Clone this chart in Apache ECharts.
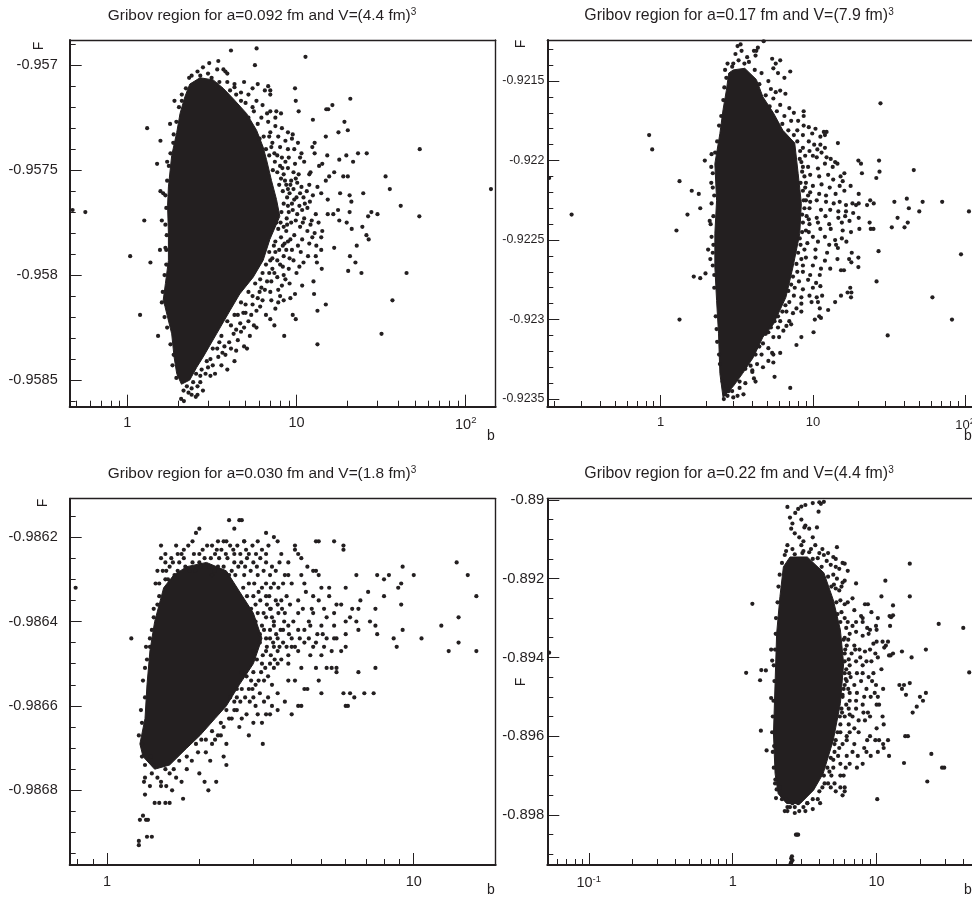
<!DOCTYPE html>
<html><head><meta charset="utf-8">
<script src="https://cdn.jsdelivr.net/npm/echarts@6/dist/echarts.min.js"></script>
<style>html,body{margin:0;padding:0;background:#fff}#c{width:972px;height:899px}</style></head>
<body><div id="c"></div>
<script>
const titles=[['Gribov region for a=0.092 fm and V=(4.4 fm)','3'],['Gribov region for a=0.17 fm and V=(7.9 fm)','3'],['Gribov region for a=0.030 fm and V=(1.8 fm)','3'],['Gribov region for a=0.22 fm and V=(4.4 fm)','3']];

const core1=[[2.34,-.95709],[2.69,-.95706],[3.22,-.95707],[3.69,-.95711],[4.23,-.95716],[5.07,-.95723],[5.81,-.95731],[6.35,-.95739],[6.65,-.95745],[7.12,-.95755],[7.62,-.95764],[7.97,-.95772],[6.96,-.95783],[6.35,-.95793],[5.55,-.95801],[4.62,-.95809],[4.04,-.95817],[3.37,-.95828],[2.81,-.95839],[2.57,-.95844],[2.34,-.9585],[2.09,-.95852],[1.96,-.95847],[1.89,-.95839],[1.83,-.95828],[1.67,-.95815],[1.63,-.95812],[1.68,-.95804],[1.75,-.95793],[1.75,-.9578],[1.73,-.95767],[1.75,-.95758],[1.83,-.95743],[1.96,-.95732],[2.05,-.95723],[2.19,-.95715]];
const pts1=[[.475,-.95769],[.565,-.9577],[1.04,-.95791],[1.26,-.95774],[1.19,-.95819],[1.31,-.9573],[1.37,-.95794],[1.52,-.95829],[1.5,-.95747],[1.57,-.95736],[1.57,-.9576],[1.63,-.95761],[1.6,-.95774],[1.72,-.95746],[1.56,-.95788],[1.68,-.95787],[1.9,-.95717],[1.79,-.95728],[1.87,-.95737],[4.1,-.95693],[5.81,-.95692],[5.68,-.957],[3.45,-.95698],[3.05,-.95699],[11.3,-.95696],[20.8,-.95716],[16.3,-.95719],[15.4,-.95721],[15,-.95721],[9.8,-.95711],[9.9,-.95717],[10.3,-.95722],[12.5,-.95726],[19.2,-.95727],[17.7,-.95732],[20.1,-.95731],[53.5,-.9574],[14.9,-.95734],[12.8,-.95737],[12.8,-.95742],[10.7,-.95742],[12.4,-.95739],[15.2,-.95743],[19.7,-.95743],[17.9,-.95745],[21.6,-.95746],[23.1,-.95742],[26,-.95742],[33.6,-.95753],[35.6,-.95759],[41.3,-.95767],[53.2,-.95772],[141,-.95759],[24.8,-.95761],[27.7,-.9577],[26.5,-.95772],[30.1,-.95771],[24.5,-.95777],[25.9,-.95781],[26.7,-.95783],[22.7,-.95786],[20.7,-.95791],[22.3,-.95794],[20.2,-.95798],[24.2,-.95799],[44.7,-.95799],[36.9,-.95812],[31.8,-.95828],[14.9,-.95814],[13.3,-.95817],[13.3,-.95833],[8.46,-.95829],[16.7,-.95787],[12.7,-.95809],[12.6,-.95803],[10.8,-.95805],[14.1,-.95797],[17.9,-.95774],[19.8,-.95775],[21.2,-.95778],[17.6,-.95769],[16.5,-.95771],[15.3,-.95764],[15.3,-.95771],[18.1,-.95761],[20.6,-.95762],[21.1,-.95765],[20.6,-.9577],[20.1,-.95753],[18.9,-.95753],[16.7,-.95751],[15.6,-.95753],[14.9,-.95755],[14,-.95761],[13.3,-.95758],[11.9,-.95757],[14.2,-.95747],[12.1,-.95751],[11.9,-.95752],[13.6,-.95748],
[2.6,-.95703],[2.8,-.95701],[2.4,-.95705],[2.7,-.95705],[3,-.95704],[3.4,-.95702],[3.7,-.95702],[3.8,-.95703],[3.9,-.95704],[3.5,-.95708],[3.9,-.95708],[4.3,-.95709],[4.9,-.95708],[5.5,-.95711],[5.9,-.95709],[6.8,-.9571],[7,-.95712],[7,-.95714],[6.5,-.95712],[4.4,-.95714],[4.7,-.95717],[5,-.95718],[5.8,-.95717],[6.3,-.95719],[7,-.95722],[7.6,-.95722],[8.1,-.95723],[5.6,-.95722],[6.2,-.95725],[6.8,-.95727],[7.5,-.95729],[8.2,-.9573],[8.9,-.95732],[9.5,-.95733],[7,-.95732],[7.8,-.95734],[8.6,-.95736],[9.4,-.95735],[10.2,-.95737],[7.2,-.95737],[8,-.95739],[8.9,-.9574],[9.7,-.9574],[10.5,-.95744],[11.1,-.95746],[7.4,-.95742],[8.2,-.95744],[9,-.95744],[9.8,-.95747],[8,-.95748],[8.9,-.95749],[9.6,-.95751],[10.3,-.95752],[8.4,-.95752],[9.3,-.95755],[10.1,-.95756],[8.7,-.95757],[9.6,-.95759],[10.7,-.95758],[11.5,-.9576],[12.5,-.95762],[9.1,-.95761],[10,-.95763],[11,-.95763],[12,-.95765],[9.4,-.95766],[10.4,-.95767],[11.6,-.95768],[13,-.95771],[9,-.9577],[10.1,-.95771],[11.1,-.95773],[12.3,-.95774],[13.5,-.95775],[14.2,-.95779],[9.3,-.95775],[10.5,-.95777],[11.6,-.95779],[12.8,-.9578],[14,-.95782],[8.7,-.95779],[9.7,-.95781],[10.8,-.95783],[11.9,-.95785],[13.1,-.95786],[14,-.95788],[7.5,-.95784],[8.5,-.95785],[9.4,-.95788],[10.6,-.95789],[11.7,-.95791],[13,-.95791],[7.5,-.95789],[8.4,-.95791],[9.6,-.95793],[11,-.95794],[13.2,-.95794],[7,-.95793],[8,-.95795],[9,-.95797],[10.4,-.95796],[7.4,-.95799],[8.4,-.958],[6.3,-.95799],[7.1,-.95803],[8.2,-.95805],[9.1,-.95804],[6.2,-.95806],[7,-.95808],[8,-.9581],[9.2,-.95811],[9.8,-.95809],[5.5,-.9581],[6.3,-.95812],[7.1,-.95812],[7.8,-.95813],[8.4,-.95812],[5,-.95814],[5.8,-.95817],[6.6,-.95819],[7,-.95821],[9.5,-.95819],[9.9,-.95821],[4.5,-.95819],[5.2,-.95822],[5.8,-.95825],[7.4,-.95824],[4.1,-.95824],[4.7,-.95827],[5.3,-.95829],[5.6,-.95824],[3.6,-.95829],[4,-.95832],[4.5,-.95831],[4.9,-.95834],[5.1,-.95835],[3.4,-.95835],[3.8,-.95838],[4.3,-.95841],[3.1,-.9584],[3.6,-.95843],[3,-.95844],[2.9,-.95847],[3.1,-.95848],[2.7,-.95851],[2.8,-.95855],[2.6,-.95857],[2.4,-.95857],[2.4,-.95854],[2.08,-.95859],[2.16,-.9586],[2.54,-.95858],[2.3,-.95856],
[5.2,-.95725],[5.5,-.9572],[5.9,-.95728],[6.4,-.95734],[6.05,-.95735],[6.6,-.9574],[6.9,-.95743],[7.1,-.95739],[7.45,-.95746],[7.7,-.95751],[7.25,-.9575],[8.25,-.95749],[8.55,-.95755],[7.9,-.95757],[8.3,-.9576],[8.8,-.95763],[8.4,-.95766],[8.15,-.9577],[8.75,-.95773],[8.4,-.95777],[7.8,-.95778],[8.1,-.95782],[7.35,-.95786],[7.9,-.95788],[6.9,-.95789],[7.2,-.95792],[6.6,-.95795],[6.1,-.95802],[6.7,-.95803],[5.7,-.95804],[6.05,-.95808],[5.2,-.95808],[5.5,-.95814],[4.7,-.95813],[5,-.95818],[4.3,-.95819],[4.65,-.95823],[3.9,-.95822],[4.25,-.95828],[3.5,-.95832],[3.75,-.95834],[3.2,-.95835],[3.45,-.95839],[2.95,-.95841],[3.2,-.95843],[2.75,-.95845],[2.55,-.95847],[2.7,-.95848],[2.45,-.95851],[2.25,-.95853],[2.15,-.95855],[1.95,-.95849],[1.85,-.95843],[1.88,-.95838],[1.8,-.95833],[1.72,-.95825],[1.66,-.9582],[1.6,-.95813],[1.62,-.95808],[1.66,-.958],[1.7,-.95795],[1.7,-.95788],[1.71,-.95781],[1.68,-.95776],[1.7,-.95768],[1.68,-.95762],[1.72,-.95755],[1.76,-.95748],[1.8,-.95742],[1.88,-.95733],[1.95,-.95727],[2.02,-.9572],[2.1,-.95714],[2.22,-.95711],[2.32,-.95706],[9.2,-.95757],[9.9,-.95754],[10.5,-.95761],[11.2,-.95766],[9.5,-.95769],[10.8,-.95769],[12.1,-.95776],[8.9,-.95784],[10.2,-.95786],[12.4,-.95782],[9.1,-.95792],[10,-.95799],[8.6,-.95802],[7.8,-.95807],[7.5,-.95816],[6.1,-.95815],[5.4,-.95819],[4.9,-.95825],[4.4,-.95836],[3.9,-.95845],[3.3,-.95847],[2.6,-.95853],[4.3,-.957105],[5.2,-.95714],[3.15,-.95706],[4.05,-.95712],[4.7,-.95713],[2.1,-.95717],
[8.6,-.95746],[8.1,-.95754],[8.9,-.95759],[9.7,-.95764],[8.9,-.95767],[9.9,-.95774],[10.9,-.95775],[8.8,-.95776],[9.2,-.95783],[8.3,-.95786],[8.7,-.95788],[7.7,-.95793],[8.3,-.95796],[7.2,-.95797],[6.9,-.95799],[7.7,-.95801],[6.5,-.95807],[5.9,-.95811],[4.4,-.95826],[4.85,-.95818],[4.1,-.95835],[3.65,-.95837],[7.6,-.95775],[8.05,-.95775],[7.5,-.95725],[6.7,-.95723],[7.7,-.95743],[6.9,-.95734]];

const core2=[[3,-.92143],[3.57,-.92142],[4.25,-.92149],[4.7,-.9216],[5.5,-.9217],[6.35,-.92181],[7.6,-.92189],[8,-.92208],[8.4,-.92227],[8.2,-.92246],[7.4,-.92267],[6.65,-.92286],[5.5,-.92303],[4.7,-.92311],[4.05,-.92324],[3.45,-.92334],[3,-.92342],[2.57,-.92349],[2.45,-.92334],[2.4,-.92309],[2.33,-.92288],[2.27,-.92267],[2.27,-.92246],[2.33,-.92225],[2.27,-.92202],[2.45,-.92183],[2.57,-.92168],[2.7,-.92156],[2.8,-.92145]];
const pts2=[[.185,-.92211],[.26,-.92234],[.84,-.92184],[.88,-.92193],[1.27,-.92244],[1.33,-.92213],[1.33,-.923],[1.5,-.92234],[1.6,-.92219],[1.78,-.92221],[1.82,-.9223],[1.65,-.92273],[1.82,-.92274],[1.97,-.92271],[1.95,-.922],[2.16,-.92196],[2.15,-.92204],[2.15,-.92214],[2.2,-.92217],[2.16,-.92227],[2.1,-.92238],[2.13,-.9224],[2.16,-.92248],[2.05,-.92256],[2.12,-.92262],[2.2,-.92258],[2.2,-.92266],[2.25,-.92272],[3.1,-.92133],[3.2,-.92128],[3.35,-.92127],[3.4,-.92131],[3.7,-.92135],[4.1,-.92131],[4.25,-.92131],[4.35,-.92129],[4.75,-.92125],[4.2,-.92134],[5.4,-.92136],[5.7,-.92139],[6.1,-.92137],[5.9,-.92145],[5.5,-.92142],[6.5,-.92148],[7.1,-.92144],[4.6,-.92145],[5.1,-.9215],[5.3,-.92155],[5.7,-.92157],[6.1,-.92156],[6.6,-.92158],[5.5,-.92161],[6.1,-.92165],[7,-.92167],[7.5,-.9217],[8.7,-.92169],[8.7,-.92172],[6.5,-.92172],[7.2,-.92175],[8,-.92175],[8.7,-.92178],[9.4,-.92179],[10.4,-.9218],[11.8,-.92182],[12.3,-.92182],[7.9,-.92181],[8.6,-.92184],[9.9,-.92183],[11.2,-.92185],[12,-.92184],[27.8,-.92164],[14.6,-.92189],[9.4,-.92188],[10.2,-.9219],[11.2,-.9219],[12,-.92192],[8.6,-.92192],[9.5,-.92194],[10.7,-.92193],[11.4,-.92195],[8.9,-.92197],[10,-.92197],[10.6,-.92198],[12.3,-.92198],[13.1,-.92199],[14,-.92201],[19.9,-.922],[20.7,-.92202],[27.2,-.922],[8.4,-.92201],[9.3,-.92204],[10.8,-.92205],[12,-.92202],[13.5,-.92204],[14.5,-.92202],[21,-.92208],[27.4,-.92207],[26.1,-.92211],[46,-.92206],[8.5,-.92207],[9.6,-.92209],[11,-.9221],[12.6,-.92209],[13.6,-.92212],[15.2,-.9221],[16.1,-.92208],[15.7,-.92213],[9,-.92214],[10,-.92216],[11.4,-.92215],[12.9,-.92217],[15,-.92216],[17.7,-.92216],[8.6,-.92219],[9.6,-.9222],[11,-.92221],[12.2,-.92222],[14.1,-.92221],[16.1,-.92219],[20,-.92221],[9,-.92225],[10.6,-.92225],[12.2,-.92226],[13.7,-.92227],[15,-.92226],[16.5,-.92228],[18.2,-.92227],[20,-.92227],[19.2,-.92228],[23.8,-.92225],[22.7,-.92228],[25.1,-.92227],[34.3,-.92226],[41.4,-.92224],[52.6,-.92226],[70.7,-.92226],[9.5,-.9223],[11.3,-.92231],[13,-.92231],[14.7,-.92232],[16.5,-.92232],[18.4,-.92233],[42.7,-.9223],[50,-.92232],[106,-.92232],[9.1,-.92235],[10.6,-.92236],[12.1,-.92235],[14.7,-.92236],[16.3,-.92235],[20,-.92236],[36,-.92236],[23.6,-.92239],[24,-.92243],[25,-.92243],[33,-.92242],[40,-.92242],[42,-.92239],[20.2,-.92243],[9.5,-.9224],[10.8,-.92239],[12.8,-.9224],[15.5,-.92239],[17.4,-.92238],[9,-.92244],[11.2,-.92243],[13.1,-.92243],[15.7,-.92244],[17.8,-.92245],[10,-.92248],[12,-.92248],[14,-.9225],[15.5,-.92249],[9.2,-.92252],[10.8,-.92251],[12.8,-.92253],[14.2,-.92253],[16.6,-.92251],[8.8,-.92256],[10.4,-.92256],[12.4,-.92258],[14.6,-.92255],[18,-.92258],[19.9,-.92261],[27,-.92257],[94,-.92259],[9,-.92261],[10.4,-.92261],[12,-.92263],[14.5,-.92262],[17.3,-.92262],[17.9,-.92264],[8.6,-.92266],[10,-.92266],[11.3,-.92268],[13,-.92268],[16,-.92269],[15.3,-.92269],[19.9,-.92267],[8.6,-.9227],[9.6,-.92272],[11.1,-.92272],[8.1,-.92276],[9.3,-.92275],[10.5,-.92277],[26.2,-.92276],[7.6,-.9228],[8.6,-.92281],[10,-.9228],[11.2,-.92279],[17.6,-.9228],[16.9,-.92283],[17.9,-.92283],[15.3,-.92285],[17.8,-.92286],[7.5,-.92285],[8.4,-.92286],[9.5,-.92285],[10.6,-.92286],[11.5,-.92285],[61,-.92286],[14,-.92289],[7,-.92289],[8.4,-.9229],[9.8,-.92289],[10.8,-.92289],[7.8,-.92293],[8.4,-.92295],[11.1,-.92293],[12.6,-.92294],[6.7,-.92295],[7.4,-.92296],[10.3,-.923],[11,-.92298],[11.3,-.92299],[82,-.923],[6.1,-.92301],[7,-.92301],[5.9,-.92305],[6.7,-.92304],[7.2,-.92303],[6.4,-.92307],[10.1,-.92308],[31,-.9231],[8.4,-.92311],[7.8,-.92316],[5.1,-.92308],[5.5,-.92311],[6,-.92311],[4.7,-.92315],[5.1,-.92318],[5.4,-.92321],[5.5,-.92322],[6.1,-.92321],[4.6,-.92322],[5.1,-.92326],[4.7,-.9233],[5.5,-.92327],[4.3,-.92328],[4,-.92333],[4,-.92332],[4.1,-.92337],[3.6,-.9234],[3.3,-.92343],[3.5,-.92347],[3.2,-.92348],[4.2,-.92339],[5.6,-.92336],[7.1,-.92343],[2.8,-.92345],[2.75,-.92348],[2.6,-.9235],[2.65,-.92347],[3,-.92349],
[3,-.92139],[3.25,-.92137],[3.55,-.92139],[3.8,-.92138],[2.95,-.92141],[4.15,-.92143],[4.45,-.92152],[4.9,-.92159],[5.2,-.92166],[5.8,-.92169],[6.3,-.92177],[6.9,-.92181],[7.5,-.92184],[7.9,-.92188],[8.25,-.92194],[8.2,-.92199],[8.6,-.92204],[8.8,-.9221],[8.3,-.92214],[8.9,-.92217],[9.3,-.92222],[8.7,-.92225],[9.6,-.92226],[8.8,-.9223],[8.5,-.92234],[9.4,-.92237],[8.6,-.92239],[8.5,-.92245],[9.4,-.92245],[8.2,-.92249],[8.3,-.92253],[8,-.92258],[8.4,-.92262],[7.8,-.92265],[7.9,-.9227],[7.4,-.92273],[7.2,-.92278],[6.9,-.92282],[6.6,-.92291],[6.3,-.92295],[5.9,-.92298],[5.6,-.92301],[5.3,-.92305],[4.9,-.92309],[4.45,-.92317],[4.2,-.92322],[3.9,-.92329],[3.6,-.92331],[3.3,-.92339],[2.95,-.92345],[2.7,-.92342],[2.55,-.92339],[2.45,-.92328],[2.42,-.92322],[2.35,-.92314],[2.33,-.92306],[2.3,-.92298],[2.25,-.9228],[2.22,-.92253],[2.22,-.92235],[2.25,-.92222],[2.2,-.92208],[2.28,-.92195],[2.35,-.92188],[2.42,-.92178],[2.5,-.92172],[2.58,-.92162],[2.62,-.92154],[2.7,-.92148],[2.65,-.92143],[2.75,-.92139]];

const core3=[[1.53,-.98632],[1.65,-.98629],[1.82,-.98627],[2.11,-.98626],[2.45,-.98628],[2.71,-.98633],[3,-.98638],[3.2,-.98644],[3.0,-.9865],[2.7,-.98655],[2.45,-.9866],[2.25,-.98663],[2.01,-.98667],[1.82,-.9867],[1.6,-.98674],[1.43,-.98675],[1.31,-.98672],[1.28,-.98669],[1.33,-.98663],[1.35,-.98655],[1.38,-.98647],[1.43,-.9864]];
const pts3=[[.79,-.98632],[1.2,-.98644],[1.34,-.98646],[1.38,-.98646],[1.42,-.98637],[1.3,-.98669],[1.3,-.98672],[1.32,-.98678],[1.33,-.98681],[1.38,-.98679],[1.43,-.98683],[1.48,-.98683],[1.55,-.98683],[1.6,-.98683],[1.28,-.98687],[1.31,-.98686],[1.34,-.98687],[1.36,-.98687],[1.27,-.98692],[1.27,-.98693],[1.35,-.98691],[1.4,-.98691],[1.33,-.98677],[1.4,-.98676],[1.46,-.98677],[1.5,-.98679],[1.56,-.98679],[1.63,-.9868],[1.6,-.98676],[1.68,-.98677],[1.75,-.98678],[1.77,-.98682],[2,-.98676],[2.08,-.98678],[2.14,-.9868],[2.27,-.98678],[2.17,-.98673],[2.4,-.98672],[2.45,-.98674],[1.89,-.98673],[1.98,-.98671],[2.2,-.98669],[2.45,-.98669],[2.35,-.98667],[2.03,-.98668],[2.7,-.98665],[2.9,-.98667],[3.22,-.98669],[2.75,-.98663],[3,-.98664],[3.2,-.98664],[2.55,-.98663],[2.65,-.98661],[2.85,-.98662],[3.05,-.9866],[3.3,-.98662],[3.4,-.98662],[3.15,-.98657],[3.35,-.98658],[3.6,-.98661],[3.8,-.98659],[4,-.98662],[4.2,-.9866],[4.3,-.9866],[2.75,-.98656],[2.9,-.98656],[3,-.98658],[3.25,-.98654],[3.45,-.98655],[3.6,-.98657],[3.9,-.98654],[4.1,-.98654],[4.4,-.98656],[4.5,-.98656],[4.9,-.98654],[5,-.98657],[5.9,-.98657],[6.2,-.98657],[6.4,-.98658],[6,-.9866],[6.1,-.9866],[6.9,-.98657],[7.4,-.98657],[7.5,-.98651],[6.6,-.98652],[3,-.98652],[3.2,-.9865],[3.5,-.98651],[3.9,-.9865],[4.3,-.98651],[4.8,-.98651],[5.2,-.98651],[5.4,-.98651],[5.6,-.98651],[5.6,-.98652],[3,-.98647],[3.3,-.98647],[3.6,-.98647],[3.9,-.98648],[4.2,-.98647],[4.6,-.98648],[5,-.98648],[5.4,-.98647],[5.8,-.98647],[6,-.98646],[3.3,-.98644],[3.6,-.98644],[4,-.98644],[4.4,-.98645],[4.8,-.98645],[5.2,-.98644],[5.6,-.98644],[6,-.98643],[6.6,-.98642],[7.6,-.98643],[8.6,-.98644],[8.8,-.98646],[9.2,-.98642],[10.6,-.98644],[12.3,-.98641],[13,-.98647],[14,-.98645],[16,-.98647],[3.2,-.98641],[3.5,-.98641],[3.9,-.98641],[4.2,-.98642],[4.6,-.98641],[5,-.98641],[5.5,-.98641],[6,-.9864],[6.5,-.9864],[7.2,-.9864],[7.5,-.98641],[14,-.98639],[3.1,-.98638],[3.4,-.98637],[3.8,-.98638],[4.2,-.98638],[4.7,-.98638],[5.1,-.98637],[5.5,-.98638],[6.2,-.98639],[6.6,-.98637],[3,-.98634],[3.3,-.98634],[3.7,-.98635],[4.2,-.98635],[4.7,-.98634],[5.3,-.98634],[5.8,-.98636],[6.3,-.98637],[6.7,-.98635],[7.1,-.98633],[7.5,-.98637],[8,-.98634],[8.9,-.98632],[9.1,-.98636],[16,-.98634],[2.6,-.98632],[2.9,-.98631],[3.2,-.98632],[3.5,-.98631],[4,-.98631],[4.4,-.98631],[5,-.98632],[5.3,-.98632],[6,-.98632],[2.2,-.98629],[2.5,-.98629],[2.8,-.98629],[3.1,-.98629],[3.4,-.98629],[3.8,-.98629],[4.3,-.98629],[4.7,-.98628],[4.9,-.98629],[6.5,-.98629],[7.6,-.98629],[8,-.9863],[8.3,-.98629],[9.1,-.98631],[10,-.98629],[15,-.98629],[2,-.98626],[2.3,-.98627],[2.6,-.98626],[3,-.98626],[3.3,-.98626],[3.9,-.98626],[4.5,-.98627],[4.8,-.98628],[9.2,-.98627],[13.8,-.98626],[1.55,-.9863],[1.7,-.98628],[1.9,-.98626],[1.55,-.98626],[1.62,-.98625],[1.75,-.98624],[2,-.98624],[2.25,-.98624],[2.6,-.98624],[2.9,-.98624],[3.3,-.98624],[3.7,-.98624],[4.2,-.98624],[4.3,-.98625],[1.5,-.98622],[1.68,-.98622],[1.78,-.98623],[2.2,-.98622],[2.4,-.98621],[2.8,-.98621],[3.1,-.98621],[3.6,-.98621],[4.1,-.98623],[4.1,-.98622],[4.8,-.98621],[4.9,-.98621],[5.5,-.98621],[5.9,-.98622],[5.9,-.98623],[1.9,-.98621],[2,-.98618],[1.95,-.98619],[2.3,-.98621],[2.45,-.98621],[2.8,-.98621],[2.6,-.98618],[3.3,-.98619],[3.5,-.9862],[2.5,-.98616],[2.7,-.98616],[2.75,-.98616],
[1.48,-.98631],[1.52,-.98628],[1.6,-.98627],[1.58,-.9863],[1.66,-.98629],[1.72,-.98626],[1.8,-.98627],[1.86,-.98628],[1.94,-.98628],[2.02,-.98627],[2.08,-.98625],[2.16,-.98627],[2.24,-.98628],[2.32,-.98625],[2.4,-.98627],[2.47,-.98625],[2.55,-.98628],[2.62,-.98629],[2.68,-.98627],[2.74,-.98626],[2.82,-.98627],[2.86,-.98625],[2.94,-.98628],[3.02,-.98631],[3.08,-.98627],[3.16,-.98625],[3.24,-.98628],[3.3,-.98631],[3.42,-.98632],[2.78,-.98632],[2.86,-.98634],[2.95,-.98637],[3.05,-.98636],[3.16,-.98635],[3.24,-.98638],[3.32,-.98636],[3.45,-.98639],[3.55,-.98635],[3.62,-.98638],[3.72,-.98637],[3.85,-.98634],[3.95,-.98636],[4.05,-.9864],[4.35,-.98637],[4.45,-.98633],[4.55,-.9864],[4.85,-.98643],[5.05,-.98643],[3.05,-.9864],[3.15,-.98643],[3.25,-.98642],[3.4,-.98642],[3.48,-.98645],[3.68,-.98642],[3.75,-.98645],[3.85,-.98646],[4.1,-.98646],[4.25,-.98644],[4.55,-.98644],[3.15,-.98645],[3.22,-.98648],[3.42,-.98648],[3.52,-.98649],[3.7,-.98649],[3.08,-.98649],[3.18,-.98652],[3.35,-.98653],[2.95,-.98654],[3.05,-.98655],[2.75,-.98652],[2.85,-.98653],[2.65,-.98656],[2.52,-.98658],[2.6,-.98659],[2.45,-.98661],[2.5,-.98663],[2.35,-.98664],[2.2,-.98666],[2.3,-.98667],[2.1,-.98668],[1.95,-.98669],[2.1,-.98671],[1.82,-.98672],[1.72,-.98673],[1.82,-.98675],[1.65,-.98675],[1.55,-.98675],[1.42,-.98674],[1.5,-.98678],[1.39,-.98672],[1.33,-.98674],[1.27,-.98667],[1.3,-.98664],[1.29,-.98661],[1.33,-.98658],[1.31,-.98654],[1.33,-.98651],[1.35,-.98649],[1.38,-.98644],[1.4,-.98642],[1.42,-.98639],[1.46,-.98636],[1.48,-.98634],[1.44,-.98631],[1.46,-.98628],[1.55,-.98624],
[1.5,-.98625],[1.56,-.98628],[1.64,-.98626],[1.7,-.98624],[1.78,-.98625],[1.84,-.98622],[1.92,-.98624],[2.05,-.98623],[2.12,-.98622],[2.18,-.98625],[2.28,-.98623],[2.36,-.98623],[2.44,-.98624],[2.52,-.98622],[2.58,-.98623],[2.66,-.98622],[2.72,-.98624],[2.84,-.98623],[2.98,-.98622],[3.06,-.98624],[3.2,-.98623],[3.36,-.98622],[3.45,-.98627],[3.55,-.98628],[3.65,-.98626],[3.75,-.98631],[3.9,-.98629],[3.12,-.98633],[3.38,-.98634],[3.62,-.98632],[3.5,-.9864],[3.78,-.9864],[3.6,-.98636],[3.42,-.98637],[3.3,-.98639],[3.92,-.98643],[3.75,-.98642],[3.56,-.98643],[3.4,-.98644],[3.32,-.98646],[3.5,-.98646],[3.65,-.98646],[4,-.98646],[3.4,-.9865],[3.6,-.9865],[3.28,-.98651],[3.12,-.98654],[2.98,-.98656],[2.82,-.98658],[2.72,-.98659],[2.6,-.98661],[2.4,-.98665],[2.25,-.98668],[4.65,-.98637],[4.9,-.98635],[5.2,-.98639],[5.6,-.98636],[4.4,-.98642],[4.7,-.98646],[5.1,-.98646],[5.5,-.98644],[2.92,-.98659],[3.1,-.98662],[3.45,-.9866],[3.25,-.98659],[2.65,-.98658]];

const core4=[[2.5,-.89145],[3.3,-.89145],[4.3,-.89185],[5,-.89254],[5.6,-.8933],[5.9,-.89416],[5.6,-.89517],[5,-.8961],[4.25,-.89695],[3.65,-.89737],[2.95,-.89771],[2.37,-.89771],[2.07,-.89746],[1.97,-.89695],[1.92,-.89593],[1.97,-.89466],[2.02,-.89339],[2.13,-.89245],[2.25,-.8917]];
const pts4=[[.053,-.89388],[1.24,-.89439],[1.37,-.89264],[1.55,-.89458],[1.58,-.89432],[1.7,-.89433],[1.57,-.89586],[1.72,-.89636],[1.85,-.8938],[1.88,-.89408],[1.85,-.89503],[1.94,-.89625],[1.96,-.8959],[1.97,-.8972],[2,-.89757],[2.02,-.89735],[2.4,-.89018],[2.5,-.89045],[2.6,-.8906],[2.55,-.89073],[2.72,-.89033],[2.85,-.89023],[3,-.8905],[3.2,-.89065],[3.15,-.8907],[3.4,-.89073],[3.85,-.8907],[3.95,-.8903],[4.1,-.8901],[4,-.89006],[3.6,-.89008],[3,-.89017],[3.2,-.89013],[4.3,-.89005],[2.7,-.89085],[2.9,-.89095],[3.1,-.89105],[3.6,-.89095],[2.4,-.89115],[2.35,-.8913],[2.6,-.89125],[3,-.89115],[3.1,-.8913],[3.5,-.89125],[3.75,-.89115],[4.2,-.89125],[4.6,-.89135],[5.3,-.8912],[3.4,-.89133],[4,-.89135],[4.3,-.8914],[5,-.89145],[5.2,-.8915],[5.5,-.89175],[4.5,-.89155],[4.8,-.89165],[5.2,-.8917],[5.8,-.8916],[6,-.89162],[6.3,-.8918],[7.2,-.89212],[5,-.8919],[5.3,-.892],[5.7,-.8922],[5.5,-.8923],[5.8,-.8921],[6,-.89205],[5.2,-.89225],[5.6,-.89255],[6,-.89265],[6.3,-.8926],[6.8,-.8925],[7,-.8928],[8,-.893],[8.3,-.89265],[8.7,-.89265],[9.2,-.89285],[10.8,-.89245],[11.5,-.89205],[17,-.89162],[17,-.89245],[13,-.89268],[12.3,-.89295],[13,-.89293],[12.6,-.89298],[6,-.893],[6.3,-.8931],[6.8,-.8932],[7.2,-.8931],[7.8,-.89295],[8,-.8931],[8.6,-.89325],[9,-.8933],[9.9,-.8932],[10,-.8933],[10.2,-.893],[12.4,-.8932],[27,-.89315],[40,-.89325],[6,-.8935],[6.5,-.8934],[7.2,-.89335],[8,-.89345],[8.8,-.8934],[9.5,-.89365],[10,-.8936],[11,-.8936],[11.6,-.8937],[12,-.8936],[6.2,-.8937],[7,-.8937],[7.6,-.8938],[8.3,-.89385],[9,-.8938],[9.8,-.8939],[11.3,-.89375],[12.2,-.89395],[13,-.8939],[15,-.89385],[22,-.8938],[6,-.8939],[6.7,-.8939],[7.1,-.8938],[7.7,-.894],[9.2,-.8941],[10.2,-.894],[12.5,-.89395],[17.5,-.894],[6,-.8941],[6.5,-.8942],[7.2,-.8941],[8,-.8942],[8.5,-.8941],[10.8,-.8943],[6,-.8944],[6.6,-.8945],[7.3,-.8944],[8,-.8944],[8.8,-.8945],[9.5,-.8944],[44,-.89438],[6.2,-.8946],[7,-.8947],[7.8,-.8946],[8.5,-.8948],[9.3,-.8946],[9.9,-.8947],[14.4,-.8947],[15,-.8948],[15.5,-.8947],[17,-.89465],[5.9,-.8948],[6.5,-.8949],[7.3,-.8949],[8.2,-.895],[9.1,-.895],[9.7,-.8949],[11.1,-.8948],[5.8,-.895],[6.5,-.8951],[7.2,-.8951],[8,-.8952],[10.2,-.895],[10.4,-.8952],[16,-.89495],[20,-.895],[22,-.8949],[5.7,-.8953],[6.4,-.8953],[7.2,-.8953],[8.1,-.8954],[8.7,-.8954],[10,-.8952],[19,-.89525],[21,-.8951],[6,-.8955],[6.8,-.8955],[7.5,-.8956],[8.3,-.8956],[9,-.8955],[11,-.8955],[17.8,-.8954],[5.6,-.8957],[6.4,-.8957],[7,-.8958],[10,-.8958],[11.2,-.8957],[15.8,-.896],[16.5,-.896],[5.6,-.8959],[6.2,-.896],[6.5,-.8959],[7.5,-.8959],[8.6,-.8961],[9,-.896],[9.8,-.8961],[10.4,-.8961],[11.1,-.8962],[12,-.8961],[5.2,-.8961],[5.8,-.8962],[6.2,-.8961],[7,-.8962],[8.2,-.8963],[10.2,-.8964],[11.2,-.8963],[12.2,-.8965],[5.1,-.8964],[5.5,-.8963],[6.2,-.8965],[6.8,-.8964],[7.4,-.8965],[8.5,-.8964],[9.1,-.8965],[5,-.8966],[5.6,-.8967],[6.1,-.8968],[6.5,-.8967],[7.3,-.8968],[8,-.8967],[15.5,-.89668],[24,-.89645],[22.5,-.89715],[29.5,-.8968],[28.5,-.8968],[4.7,-.8969],[5,-.8968],[5.6,-.897],[5.9,-.897],[4.3,-.897],[4.6,-.8972],[5.1,-.8972],[5.6,-.8973],[6,-.8973],[4.8,-.8973],[5.2,-.8974],[5.8,-.8975],[6,-.8974],[10.1,-.8976],[4.2,-.8973],[3.9,-.8976],[3.6,-.8976],[3.3,-.8977],[2.4,-.8978],[2.3,-.8979],[2.4,-.8979],[2.5,-.8978],[2.7,-.8978],[2.9,-.8979],[3.1,-.8978],[3.3,-.8977],[2.7,-.89795],[2.75,-.8985],[2.8,-.8985],[2.85,-.8985],[2.55,-.8991],[2.58,-.89905],[2.55,-.8992],[2.53,-.89923],[2.6,-.89915],
[2.3,-.8914],[2.7,-.89138],[3.05,-.89135],[3.6,-.8915],[3.9,-.89148],[4.15,-.8917],[4.6,-.89195],[4.85,-.8922],[5.05,-.89215],[5.25,-.8926],[5.35,-.8929],[5.7,-.89285],[5.6,-.8931],[6.15,-.89325],[5.9,-.89355],[6.35,-.89355],[6.05,-.8938],[6.4,-.89405],[6.15,-.8943],[6.45,-.8944],[6.1,-.89455],[6,-.8947],[6.35,-.8948],[5.8,-.89495],[6.15,-.8952],[5.75,-.8954],[6.5,-.89545],[5.55,-.8955],[5.35,-.8959],[5.1,-.8962],[5.4,-.8965],[4.8,-.89655],[4.55,-.8968],[4.85,-.897],[4.35,-.8972],[4,-.8974],[4.05,-.8977],[3.6,-.89785],[3.2,-.8979],[2.85,-.8977],[2.6,-.8977],[2.35,-.8976],[2.2,-.8976],[2.12,-.8973],[1.98,-.8971],[1.93,-.8968],[1.9,-.8964],[1.88,-.8959],[1.9,-.8955],[1.92,-.8951],[1.95,-.8946],[1.93,-.8942],[1.97,-.8938],[1.99,-.8934],[2,-.893],[2.05,-.8926],[2.08,-.8922],[2.12,-.8919],[2.2,-.8916]];

const xMajor=[[.1,1,10,100],[.1,1,10,100],[1,10],[.1,1,10]];
const xMinor=[[.5,.6,.7,.8,.9,2,3,4,5,6,7,8,9,20,30,40,50,60,70,80,90],[.2,.3,.4,.5,.6,.7,.8,.9,2,3,4,5,6,7,8,9,20,30,40,50,60,70,80,90],[.8,.9,2,3,4,5,6,7,8,9],[.06,.07,.08,.09,.2,.3,.4,.5,.6,.7,.8,.9,2,3,4,5,6,7,8,9,20,30,40]];
const yMajor=[[-.957,-.9575,-.958,-.9585],[-.9215,-.922,-.9225,-.923,-.9235],[-.9862,-.9864,-.9866,-.9868],[-.89,-.892,-.894,-.896,-.898]];
const yMinor=[[-.9569,-.9571,-.9572,-.9573,-.9574,-.9576,-.9577,-.9578,-.9579,-.9581,-.9582,-.9583,-.9584,-.9586],[-.9213,-.9214,-.9216,-.9217,-.9218,-.9219,-.9221,-.9222,-.9223,-.9224,-.9226,-.9227,-.9228,-.9229,-.9231,-.9232,-.9233,-.9234],[-.98615,-.98625,-.9863,-.98635,-.98645,-.9865,-.98655,-.98665,-.9867,-.98675,-.98685,-.9869,-.98695],[-.8905,-.891,-.8915,-.8925,-.893,-.8935,-.8945,-.895,-.8955,-.8965,-.897,-.8975,-.8985,-.899]];
const cores=[core1,core2,core3,core4], points=[pts1,pts2,pts3,pts4];

const INK='#231f20', FONT='"Liberation Sans",Arial,sans-serif';
const layout=[
 {l:69.7,t:40,w:426,h:366.7,xmin:.4567,xmax:150.4,ymin:-.958627,ymax:-.95688,fs:14.5,xfs:14.5,lm:12,tx:262,ty:7,tfs:15.4,closed:true},
 {l:547.3,t:40,w:424.7,h:367,xmin:.18,xmax:111,ymin:-.92355,ymax:-.921242,fs:12.4,xfs:13,lm:3,tx:739,ty:7,tfs:15.9,closed:false},
 {l:69.7,t:498.7,w:426,h:366.3,xmin:.7557,xmax:18.5,ymin:-.986977,ymax:-.986109,fs:14.5,xfs:14.5,lm:12,tx:262,ty:465,tfs:15.4,closed:true},
 {l:547.3,t:498.7,w:424.7,h:366.3,xmin:.0515,xmax:46,ymin:-.89927,ymax:-.88997,fs:14.8,xfs:14.5,lm:3,tx:739,ty:465,tfs:15.9,closed:false}];

const xLabel=v=>{const r=Math.round(v*1000)/1000;return r===100?'10{s|2}':r===.1?'10{s|-1}':String(r);};
const option={animation:false,backgroundColor:'#fff',title:[],grid:[],xAxis:[],yAxis:[],series:[],graphic:[]};
layout.forEach((p,i)=>{
 option.title.push({text:titles[i][0]+'{s|'+titles[i][1]+'}',left:p.tx,top:p.ty,padding:0,textAlign:'center',textStyle:{fontFamily:FONT,fontSize:p.tfs,fontWeight:'normal',color:INK,rich:{s:{fontFamily:FONT,fontSize:10,color:INK,padding:[0,0,8,0]}}}});
 option.grid.push({left:p.l,top:p.t,width:p.w,height:p.h,show:false,outerBoundsMode:'none'});
 const ax={gridIndex:i,splitLine:{show:false},minorSplitLine:{show:false}};
 const line={show:true,onZero:false,lineStyle:{color:INK,width:2}};
 const thin={show:true,onZero:false,lineStyle:{color:INK,width:1.4}};
 const tick={inside:true,lineStyle:{color:INK,width:1}};
 const xr={type:'log',min:p.xmin,max:p.xmax}, yr={type:'value',min:p.ymin,max:p.ymax,scale:true};
 option.xAxis.push({...ax,...xr,position:'bottom',axisLine:line,axisTick:{...tick,show:true,length:12,customValues:xMajor[i]},axisLabel:{show:true,customValues:xMajor[i],margin:9,fontFamily:FONT,fontSize:p.xfs,color:INK,formatter:xLabel,rich:{s:{fontFamily:FONT,fontSize:9.5,color:INK,padding:[0,0,8,0]}}}});
 option.xAxis.push({...ax,...xr,position:'bottom',axisLine:{show:false},axisTick:{...tick,show:true,length:6,customValues:xMinor[i]},axisLabel:{show:false}});
 option.xAxis.push({...ax,...xr,position:'top',axisLine:thin,axisTick:{show:false},axisLabel:{show:false}});
 option.yAxis.push({...ax,...yr,position:'left',axisLine:line,axisTick:{...tick,show:true,length:12,customValues:yMajor[i]},axisLabel:{show:true,customValues:yMajor[i],margin:p.lm,fontFamily:FONT,fontSize:p.fs,color:INK,formatter:v=>String(+(+v).toFixed(5))}});
 option.yAxis.push({...ax,...yr,position:'left',axisLine:{show:false},axisTick:{...tick,show:true,length:6,customValues:yMinor[i]},axisLabel:{show:false}});
 option.yAxis.push({...ax,...yr,position:'right',axisLine:p.closed?thin:{show:false},axisTick:{show:false},axisLabel:{show:false}});
 const xi=i*3, yi=i*3;
 const core=cores[i];
 option.series.push({type:'custom',xAxisIndex:xi,yAxisIndex:yi,clip:true,silent:true,data:[core[0]],renderItem:(params,api)=>({type:'polygon',shape:{points:core.map(c=>api.coord(c))},style:{fill:INK,stroke:INK,lineWidth:1}})});
 option.series.push({type:'scatter',xAxisIndex:xi,yAxisIndex:yi,data:points[i],symbol:'circle',symbolSize:4.2,itemStyle:{color:INK,opacity:1},silent:true,clip:false});
});
[[491,437],[968,437],[491,891],[968,891]].forEach(c=>option.graphic.push({type:'text',left:c[0]-4,top:c[1]-8,style:{text:'b',fill:INK,font:'14px '+FONT}}));
[[39,46],[521,44],[43,503],[521,682]].forEach(c=>option.graphic.push({type:'text',x:c[0],y:c[1],rotation:Math.PI/2,style:{text:'F',fill:INK,font:'14px '+FONT,align:'center',verticalAlign:'middle'}}));
echarts.init(document.getElementById('c'),null,{renderer:'canvas'}).setOption(option);
</script></body></html>
